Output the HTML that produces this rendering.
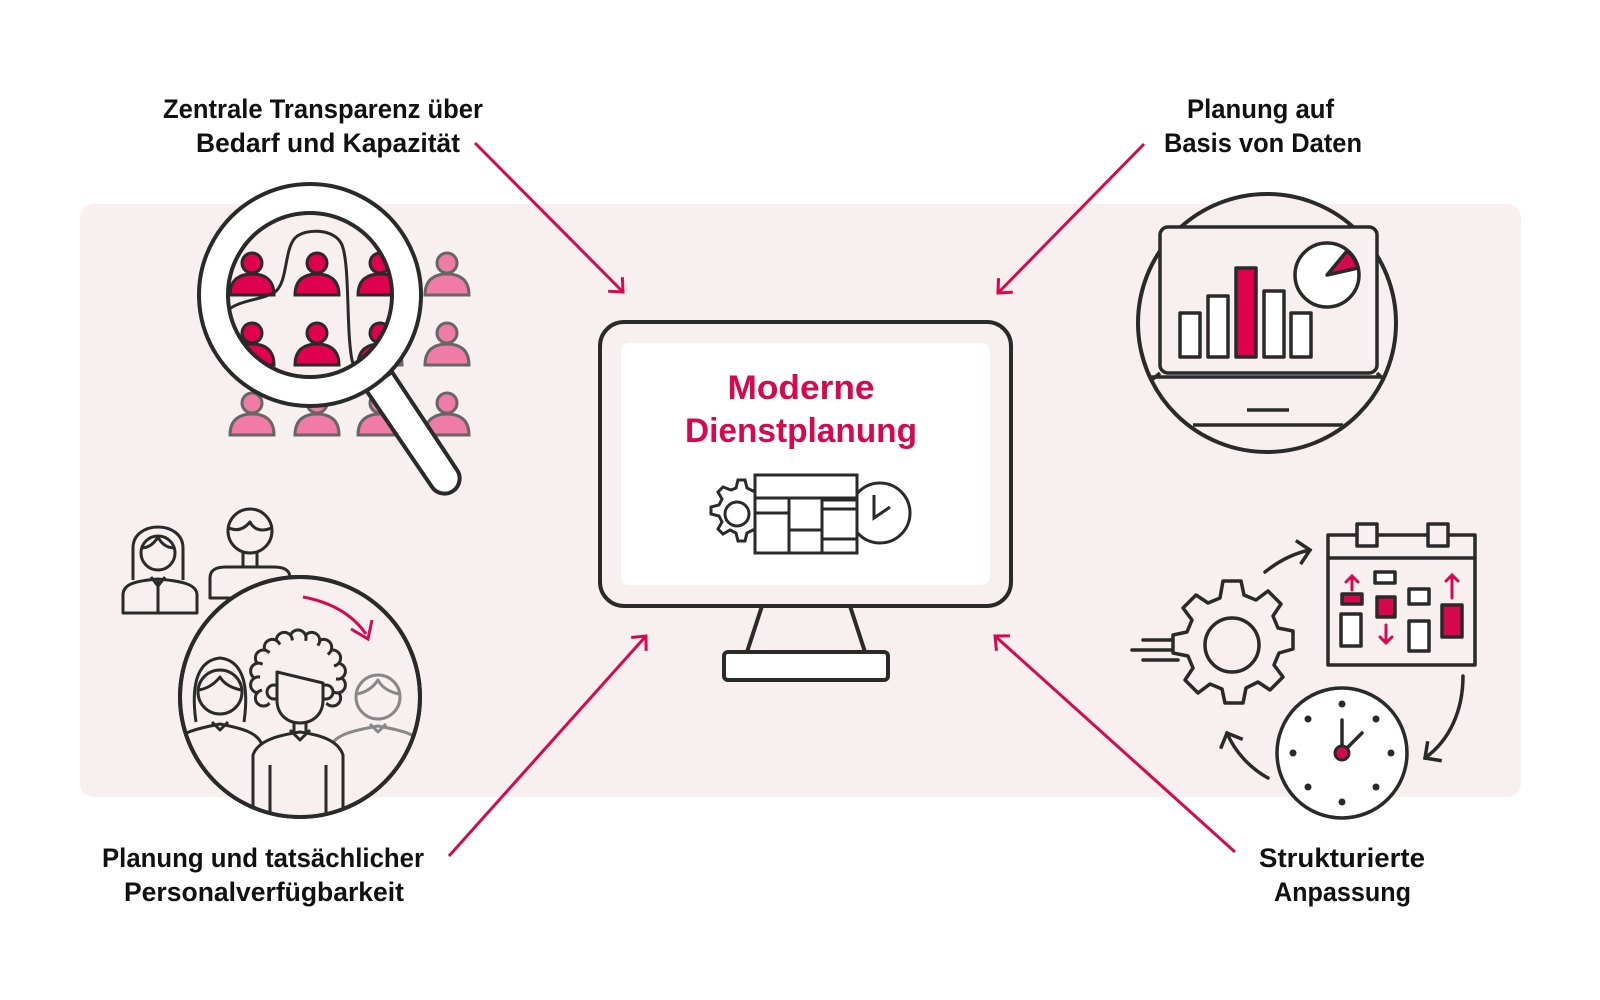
<!DOCTYPE html>
<html><head><meta charset="utf-8"><style>
html,body{margin:0;padding:0;background:#fff;}
svg{display:block;}
text{font-family:"Liberation Sans",sans-serif;font-weight:bold;}
</style></head><body>
<svg width="1600" height="1000" viewBox="0 0 1600 1000" xmlns="http://www.w3.org/2000/svg">
<defs>
<clipPath id="lens"><circle cx="310" cy="295" r="82"/></clipPath>
<clipPath id="bigc"><circle cx="300" cy="697" r="120"/></clipPath>
<clipPath id="dc"><circle cx="1267" cy="323" r="127"/></clipPath>
<marker id="ah" markerWidth="24" markerHeight="24" refX="0" refY="0" viewBox="-12 -12 24 24" orient="auto" markerUnits="userSpaceOnUse">
<path d="M-11,-10 L0,0 L-11,10" fill="none" stroke="#d6094f" stroke-width="3"/></marker>
<marker id="ahd" markerWidth="28" markerHeight="28" refX="0" refY="0" viewBox="-14 -14 28 28" orient="auto" markerUnits="userSpaceOnUse">
<path d="M-12,-12 L0,0 L-12,12" fill="none" stroke="#2a2a2a" stroke-width="3.5"/></marker>
<g id="pp"><circle cx="0" cy="-22" r="10"/><path d="M-22,10 C-22,-6 -12,-11 0,-11 C12,-11 22,-6 22,10 Z"/></g>
</defs>

<rect x="80" y="204" width="1441" height="593" rx="14" fill="#f7eff0"/>

<!-- labels -->
<g fill="#111" font-size="27">
<text x="163" y="118" textLength="320" lengthAdjust="spacingAndGlyphs">Zentrale Transparenz über</text>
<text x="196" y="152" textLength="264" lengthAdjust="spacingAndGlyphs">Bedarf und Kapazität</text>
<text x="1187" y="118" textLength="147" lengthAdjust="spacingAndGlyphs">Planung auf</text>
<text x="1164" y="152" textLength="198" lengthAdjust="spacingAndGlyphs">Basis von Daten</text>
<text x="102" y="867" textLength="322" lengthAdjust="spacingAndGlyphs">Planung und tatsächlicher</text>
<text x="124" y="901" textLength="280" lengthAdjust="spacingAndGlyphs">Personalverfügbarkeit</text>
<text x="1259" y="867" textLength="166" lengthAdjust="spacingAndGlyphs">Strukturierte</text>
<text x="1274" y="901" textLength="137" lengthAdjust="spacingAndGlyphs">Anpassung</text>
</g>

<!-- arrows -->
<g stroke="#d6094f" stroke-width="3" fill="none">
<line x1="475" y1="143" x2="623" y2="292" marker-end="url(#ah)"/>
<line x1="1144" y1="144" x2="998" y2="293" marker-end="url(#ah)"/>
<line x1="449" y1="856" x2="646" y2="636" marker-end="url(#ah)"/>
<line x1="1235" y1="852" x2="995" y2="636" marker-end="url(#ah)"/>
</g>

<!-- monitor -->
<g stroke="#2a2a2a" stroke-width="4" fill="none" stroke-linejoin="round">
<rect x="600" y="322" width="411" height="284" rx="24" fill="#f7eff0"/>
<rect x="621" y="343" width="369" height="242" rx="8" fill="#fff" stroke="none"/>
<path d="M762,606 L747,652 L865,652 L850,606"/>
<rect x="724" y="652" width="164" height="28" rx="4" fill="#fff"/>
</g>
<text x="801" y="399" font-size="34" fill="#d6094f" text-anchor="middle" textLength="147" lengthAdjust="spacingAndGlyphs">Moderne</text>
<text x="801" y="442" font-size="34" fill="#d6094f" text-anchor="middle" textLength="232" lengthAdjust="spacingAndGlyphs">Dienstplanung</text>
<!-- small icon -->
<g stroke="#2a2a2a" stroke-width="3" fill="#fff">
<path d="M737,488 l5,-2 l2,-8 l7,0 l2,8 l6,3 l7,-4 l5,5 l-4,7 l3,6 l8,2 l0,7 l-8,2 l-3,6 l4,7 l-5,5 l-7,-4 l-6,3 l-2,8 l-7,0 l-2,-8 l-6,-3 l-7,4 l-5,-5 l4,-7 l-3,-6 l-8,-2 l0,-7 l8,-2 l3,-6 l-4,-7 l5,-5 z" transform="translate(-6,2)"/>
<circle cx="737" cy="514" r="12"/>
<circle cx="880" cy="513" r="30"/>
<path d="M874,495 L874,518 L890,507" fill="none"/>
<rect x="755" y="475" width="102" height="78"/>
<path d="M755,498 H857 M789,498 V553 M822,498 V553 M755,513 H789 M789,530 H822 M822,500 H857 M822,509 H857 M822,539 H857" fill="none"/>
</g>

<!-- magnifier people -->
<g fill="#f07ba6" stroke="#666" stroke-width="3">
<use href="#pp" x="252" y="285"/><use href="#pp" x="317" y="285"/><use href="#pp" x="380" y="285"/><use href="#pp" x="447" y="285"/>
<use href="#pp" x="252" y="355"/><use href="#pp" x="317" y="355"/><use href="#pp" x="380" y="355"/><use href="#pp" x="447" y="355"/>
<use href="#pp" x="252" y="425"/><use href="#pp" x="317" y="425"/><use href="#pp" x="380" y="425"/><use href="#pp" x="447" y="425"/>
</g>
<circle cx="310" cy="295" r="82" fill="#f7eff0"/>
<g clip-path="url(#lens)" fill="#e0004d" stroke="#2a2a2a" stroke-width="3">
<use href="#pp" x="252" y="285"/><use href="#pp" x="317" y="285"/><use href="#pp" x="380" y="285"/>
<use href="#pp" x="252" y="355"/><use href="#pp" x="317" y="355"/><use href="#pp" x="380" y="355"/>
<path d="M228,310 C240,300 262,300 275,292 C288,282 284,250 295,238 C305,228 335,228 342,245 C350,265 346,330 352,360 L358,380" fill="none"/>
</g>
<path d="M392,372 L457,470 A15,15 0 0 1 432,487 L366,390 Z" fill="#fff" stroke="#2a2a2a" stroke-width="4" stroke-linejoin="round"/>
<path fill-rule="evenodd" d="M310,184 a111,111 0 1 0 0.01,0 Z M310,213 a82,82 0 1 1 -0.01,0 Z" fill="#fff" stroke="#2a2a2a" stroke-width="4"/>

<!-- bottom-left people -->
<g stroke="#2a2a2a" stroke-width="3" fill="none" stroke-linejoin="round">
<path d="M133,580 L133,548 C133,520 183,520 183,548 L183,580" fill="#f7eff0"/>
<circle cx="158" cy="553" r="17" fill="#f7eff0"/>
<path d="M141,548 C150,548 155,542 158,537 C162,545 168,548 175,548"/>
<path d="M123,613 L123,595 C123,584 135,581 158,579 C181,581 197,584 197,595 L197,613 Z M158,579 L158,613 M151,577 L158,586 L165,577" fill="#f7eff0"/>
<circle cx="250" cy="531" r="22" fill="#f7eff0"/>
<path d="M229,528 C238,532 245,528 250,522 C254,530 262,532 271,528"/>
<path d="M243,552 L243,567 M257,552 L257,567"/>
<path d="M210,598 L210,578 C210,570 216,567 226,567 L274,567 C284,567 290,570 290,578 L290,598 Z" fill="#f7eff0"/>
</g>
<circle cx="300" cy="697" r="120" fill="#f7eff0" stroke="#2a2a2a" stroke-width="4"/>
<g clip-path="url(#bigc)" stroke="#2a2a2a" stroke-width="3" fill="#f7eff0" stroke-linejoin="round">
<path d="M196,722 C190,680 200,660 220,658 C240,660 250,680 244,722" />
<circle cx="220" cy="692" r="22"/>
<path d="M199,690 C210,688 216,682 220,677 C224,684 232,688 241,690" fill="none"/>
<path d="M175,800 L175,745 C178,732 200,728 220,724 C240,728 258,732 262,745 L262,800"/>
<path d="M212,722 L220,730 L228,722" fill="none"/>
<g stroke="#888"><circle cx="378" cy="697" r="22"/>
<path d="M357,694 C368,692 374,686 378,680 C382,688 390,692 399,694" fill="none"/>
<path d="M330,800 L330,748 C334,734 356,730 378,726 C400,730 420,734 424,748 L424,800"/>
<path d="M370,724 L378,732 L386,724" fill="none"/></g>
<!-- curly hair -->
<g>
<circle cx="332.6" cy="698" r="8"/><circle cx="337.4" cy="684.9" r="8"/><circle cx="337.4" cy="671.1" r="8"/>
<circle cx="332.6" cy="658" r="8"/><circle cx="323.7" cy="647.4" r="8"/><circle cx="311.7" cy="640.4" r="8"/>
<circle cx="298" cy="638" r="8"/><circle cx="284.3" cy="640.4" r="8"/><circle cx="272.3" cy="647.4" r="8"/>
<circle cx="263.4" cy="658" r="8"/><circle cx="258.6" cy="671.1" r="8"/><circle cx="258.6" cy="684.9" r="8"/>
<circle cx="263.4" cy="698" r="8"/>
<circle cx="298" cy="678" r="38" stroke="none"/>
</g>
<path d="M253,820 L253,755 C258,740 280,735 300,732 C320,735 338,740 343,755 L343,820"/>
<path d="M290,730 L300,740 L310,730" fill="none"/>
<path d="M294,720 L294,732 M306,720 L306,732" fill="none"/>
<circle cx="274" cy="692" r="7"/><circle cx="326" cy="692" r="7"/>
<path d="M277,672 L323,683 L323,700 C323,715 312,723 300,723 C288,723 277,715 277,700 Z"/>
<path d="M270,765 L270,820 M326,765 L326,820" fill="none"/>
</g>
<circle cx="300" cy="697" r="120" fill="none" stroke="#2a2a2a" stroke-width="4"/>
<path d="M303,597 C330,602 352,614 366,634" fill="none" stroke="#d6094f" stroke-width="3"/>
<path d="M351,629 L368,639 L372,620" fill="none" stroke="#d6094f" stroke-width="3"/>

<!-- top-right data -->
<circle cx="1267" cy="323" r="129" fill="#f7eff0" stroke="#2a2a2a" stroke-width="4"/>
<g stroke="#2a2a2a" stroke-width="3.5" fill="none" stroke-linejoin="round">
<path d="M1140,377 L1394,377 M1193,425 L1343,425" clip-path="url(#dc)"/>
<path d="M1160,373 L1140,390 M1377,373 L1394,390" clip-path="url(#dc)"/>
<rect x="1160" y="227" width="217" height="146" rx="8" fill="#f7eff0"/>
<path d="M1247,410 H1289"/>
<rect x="1180" y="313" width="20" height="44" fill="#fff"/>
<rect x="1208" y="296" width="20" height="61" fill="#fff"/>
<rect x="1236" y="268" width="20" height="89" fill="#e0004d"/>
<rect x="1264" y="291" width="20" height="66" fill="#fff"/>
<rect x="1291" y="313" width="20" height="44" fill="#fff"/>
<circle cx="1327" cy="275" r="32" fill="#fff"/>
<path d="M1327,275 L1347,251 A32,32 0 0 1 1358,268 Z" fill="#d6094f"/>
</g>

<!-- bottom-right -->
<g stroke="#2a2a2a" stroke-width="3.5" fill="none" stroke-linejoin="round" stroke-linecap="round">
<path d="M1132,650 H1172 M1143,640 H1178 M1143,660 H1178"/>
<g transform="translate(1232,645)">
<path fill="#f7eff0" d="M-9,-64 L9,-64 L12,-50 L24,-45 L36,-54 L49,-41 L41,-29 L46,-17 L61,-14 L61,4 L47,8 L42,20 L51,32 L38,45 L26,37 L14,43 L11,58 L-7,58 L-10,44 L-22,39 L-34,48 L-47,35 L-39,23 L-44,11 L-59,8 L-59,-10 L-45,-13 L-40,-25 L-49,-37 L-36,-50 L-24,-42 L-12,-47 Z"/>
<circle r="27" fill="#f7eff0"/>
</g>
<rect x="1328" y="535" width="147" height="130" fill="#f7eff0"/>
<path d="M1328,558 H1475"/>
<rect x="1357" y="524" width="20" height="22" fill="#f7eff0"/>
<rect x="1428" y="524" width="20" height="22" fill="#f7eff0"/>
<rect x="1342" y="594" width="20" height="10" fill="#d6094f"/>
<rect x="1341" y="614" width="20" height="32" fill="#fff"/>
<rect x="1377" y="597" width="18" height="20" fill="#d6094f"/>
<rect x="1375" y="572" width="20" height="11" fill="#fff"/>
<rect x="1409" y="589" width="20" height="15" fill="#fff"/>
<rect x="1409" y="621" width="20" height="30" fill="#fff"/>
<rect x="1442" y="605" width="20" height="32" fill="#d6094f"/>
<path d="M1265,572 C1280,560 1295,553 1310,550" marker-end="url(#ahd)"/>
<path d="M1463,676 C1463,710 1450,740 1425,758" marker-end="url(#ahd)"/>
<path d="M1268,778 C1250,768 1235,752 1227,733" marker-end="url(#ahd)"/>
<circle cx="1342" cy="753" r="65" fill="#fff"/>
<path d="M1342,753 V720 M1342,753 L1362,733"/>
</g>
<g stroke="#d6094f" stroke-width="3" fill="none" stroke-linecap="round">
<path d="M1352,590 V576 M1346,582 L1352,576 L1358,582"/>
<path d="M1386,625 V643 M1380,637 L1386,643 L1392,637"/>
<path d="M1452,598 V575 M1446,581 L1452,575 L1458,581"/>
</g>
<circle cx="1342" cy="753" r="7" fill="#d6094f" stroke="#2a2a2a" stroke-width="3"/>
<g fill="#2a2a2a">
<circle cx="1342" cy="704" r="3.5"/><circle cx="1342" cy="802" r="3.5"/>
<circle cx="1293" cy="753" r="3.5"/><circle cx="1391" cy="753" r="3.5"/>
<circle cx="1308" cy="719" r="3.5"/><circle cx="1376" cy="719" r="3.5"/>
<circle cx="1308" cy="787" r="3.5"/><circle cx="1376" cy="787" r="3.5"/>
</g>
</svg>
</body></html>
